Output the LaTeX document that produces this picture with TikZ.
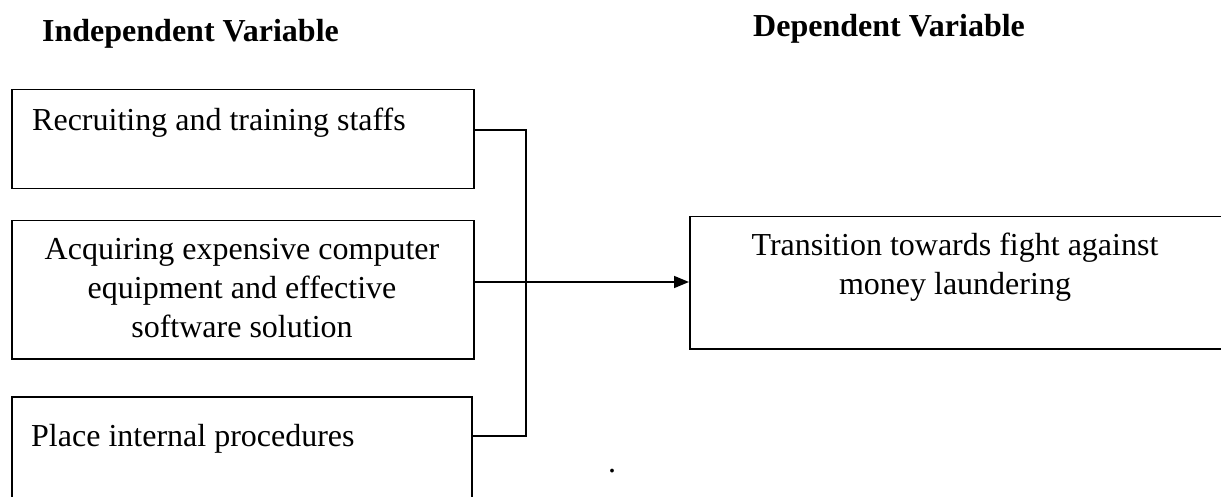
\documentclass[tikz,border=0pt]{standalone}
\usepackage{fontspec}
\setmainfont{Liberation Serif}
\usetikzlibrary{arrows.meta}

% fixed first-line height so multi-line labels can be placed by their first baseline
\newcommand{\firstline}{\rule{0pt}{26pt}}

\begin{document}
\begin{tikzpicture}[x=1pt,y=-1pt,
  box/.style={draw,line width=1.5pt,rectangle,inner sep=0pt,anchor=north west},
  lbl/.style={inner sep=0pt,font=\fontsize{32}{39}\selectfont},
  head/.style={inner sep=0pt,anchor=base west,font=\fontsize{32}{38}\selectfont\bfseries},
  link/.style={line width=1.5pt},
  arrowlink/.style={line width=1.5pt,-{Triangle[length=15pt,width=12pt]}}]
\useasboundingbox (0,0) rectangle (1221,497);
\clip (0,0) rectangle (1221,497);

% column headings
\node[head] (hIndep) at (42,42) {Independent Variable};
\node[head] (hDep) at (753,37) {Dependent Variable};

% independent variable boxes
\node[box,minimum width=462pt,minimum height=99pt] (b1) at (11,89) {};
\node[lbl,anchor=base west] (t1) at (32,131) {Recruiting and training staffs};

\node[box,minimum width=462pt,minimum height=138pt] (b2) at (11,220) {};
\node[lbl,anchor=north,align=center] (t2) at (242,259-26)
  {\firstline Acquiring expensive computer\\equipment and effective\\software solution};

\node[box,minimum width=460pt,minimum height=130pt] (b3) at (11,396) {};
\node[lbl,anchor=base west] (t3) at (31,446) {Place internal procedures};

% dependent variable box
\node[box,minimum width=540pt,minimum height=132pt] (b4) at (689,216) {};
\node[lbl,anchor=north,align=center] (t4) at (955,255-26)
  {\firstline Transition towards fight against\\money laundering};

% joining bracket
\coordinate (j1) at (526,130);
\coordinate (j3) at (526,436);
\draw[link] (b1.east |- j1) -- (j1) -- (j3) -- (b3.east |- j3);

% arrow to the dependent variable
\draw[arrowlink] (b2.east |- 0,282) -- (b4.west |- 0,282);

% stray full stop
\node[lbl,anchor=base] (dot) at (612,472) {.};
\end{tikzpicture}
\end{document}
